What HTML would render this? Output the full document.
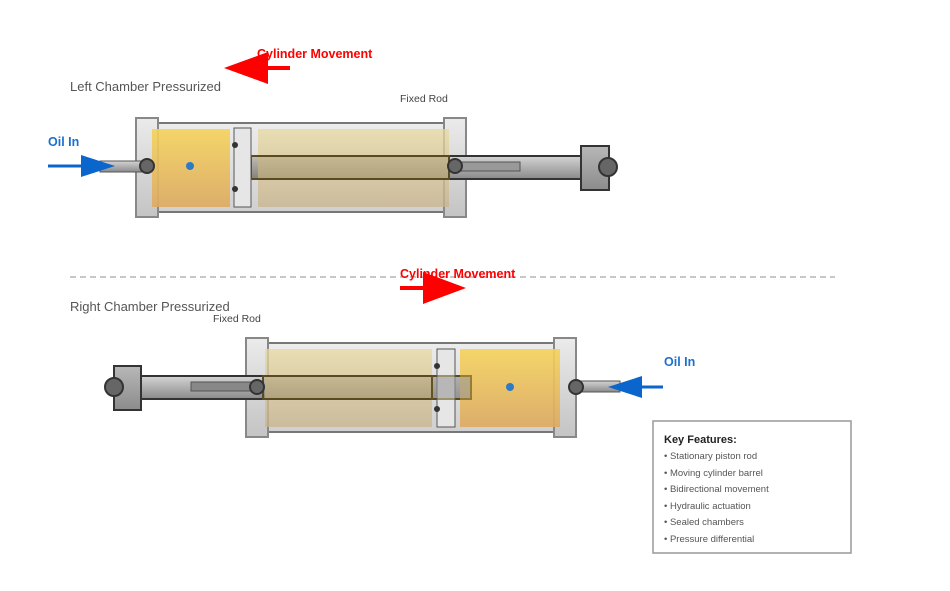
<!DOCTYPE html>
<html><head><meta charset="utf-8"><style>
html,body{margin:0;padding:0;background:#fff;}
svg{display:block;font-family:"Liberation Sans",Arial,sans-serif;}
</style></head><body>
<svg width="950" height="591" viewBox="0 0 950 591" xmlns="http://www.w3.org/2000/svg">
<defs>
<linearGradient id="met" x1="0" y1="0" x2="0" y2="1"><stop offset="0" stop-color="#d4d4d4"/><stop offset="1" stop-color="#8a8a8a"/></linearGradient>
<linearGradient id="cap" x1="0" y1="0" x2="0" y2="1"><stop offset="0" stop-color="#ebebeb"/><stop offset="1" stop-color="#c4c4c4"/></linearGradient>
<linearGradient id="bar" x1="0" y1="0" x2="0" y2="1"><stop offset="0" stop-color="#ececec"/><stop offset="1" stop-color="#d0d0d0"/></linearGradient>
<linearGradient id="yel" x1="0" y1="0" x2="0" y2="1"><stop offset="0" stop-color="#f5d35a"/><stop offset="1" stop-color="#deaa60"/></linearGradient>
<linearGradient id="lt" x1="0" y1="0" x2="0" y2="1"><stop offset="0" stop-color="#e8d9a0"/><stop offset="1" stop-color="#c9b48c"/></linearGradient>
<linearGradient id="blk" x1="0" y1="0" x2="0" y2="1"><stop offset="0" stop-color="#b8b8b8"/><stop offset="1" stop-color="#8c8c8c"/></linearGradient>
</defs>

<!-- TOP -->
<text x="70" y="91" font-size="13" fill="#555">Left Chamber Pressurized</text>
<text x="400" y="102" font-size="10.5" fill="#444">Fixed Rod</text>
<text x="257" y="58" font-size="12.5" font-weight="bold" fill="#f00">Cylinder Movement</text>
<line x1="240" y1="68" x2="290" y2="68" stroke="#f00" stroke-width="4"/>
<polygon points="224,68 268,52 268,84" fill="#f00"/>

<rect x="153" y="123" width="297" height="89" fill="url(#bar)" stroke="#777" stroke-width="2"/>
<rect x="136" y="118" width="22" height="99" fill="url(#cap)" stroke="#888" stroke-width="2"/>
<rect x="444" y="118" width="22" height="99" fill="url(#cap)" stroke="#888" stroke-width="2"/>
<rect x="100" y="161" width="47" height="11" fill="url(#met)" stroke="#555"/>
<rect x="251" y="156" width="332" height="23" fill="url(#met)" stroke="#333" stroke-width="2"/>
<rect x="455" y="162" width="65" height="9" fill="#999" stroke="#555"/>
<rect x="152" y="129" width="78" height="78" fill="url(#yel)" opacity="0.9"/>
<rect x="258" y="129" width="191" height="78" fill="url(#lt)" opacity="0.75"/>
<rect x="251" y="156" width="198" height="23" fill="#6b5a30" fill-opacity="0.18" stroke="#5a4a20" stroke-width="2"/>
<rect x="234" y="128" width="17" height="79" fill="#e6e6e6" stroke="#555"/>
<circle cx="235" cy="145" r="3" fill="#333"/><circle cx="235" cy="189" r="3" fill="#333"/>
<circle cx="147" cy="166" r="7" fill="#666" stroke="#333" stroke-width="2"/>
<circle cx="455" cy="166" r="7" fill="#666" stroke="#333" stroke-width="2"/>
<circle cx="190" cy="166" r="4" fill="#2e7bc4"/>
<rect x="581" y="146" width="28" height="44" fill="url(#blk)" stroke="#333" stroke-width="2"/>
<circle cx="608" cy="167" r="9" fill="#666" stroke="#333" stroke-width="2"/>
<text x="48" y="146" font-size="12.5" font-weight="bold" fill="#1a6fcf">Oil In</text>
<line x1="48" y1="166" x2="90" y2="166" stroke="#0a66cc" stroke-width="3"/>
<polygon points="115,166 81,155 81,177" fill="#0a66cc"/>

<line x1="70" y1="277" x2="835" y2="277" stroke="#c8c8c8" stroke-width="2" stroke-dasharray="6,4"/>

<!-- BOTTOM -->
<text x="70" y="311" font-size="13" fill="#555">Right Chamber Pressurized</text>
<text x="213" y="322" font-size="10.5" fill="#444">Fixed Rod</text>
<text x="400" y="278" font-size="12.5" font-weight="bold" fill="#f00">Cylinder Movement</text>
<line x1="400" y1="288" x2="450" y2="288" stroke="#f00" stroke-width="4"/>
<polygon points="466,288 423,272 423,304" fill="#f00"/>

<rect x="263" y="343" width="295" height="89" fill="url(#bar)" stroke="#777" stroke-width="2"/>
<rect x="246" y="338" width="22" height="99" fill="url(#cap)" stroke="#888" stroke-width="2"/>
<rect x="554" y="338" width="22" height="99" fill="url(#cap)" stroke="#888" stroke-width="2"/>
<rect x="576" y="381" width="44" height="11" fill="url(#met)" stroke="#555"/>
<rect x="141" y="376" width="330" height="23" fill="url(#met)" stroke="#333" stroke-width="2"/>
<rect x="191" y="382" width="66" height="9" fill="#888" stroke="#555"/>
<rect x="265" y="349" width="167" height="78" fill="url(#lt)" opacity="0.75"/>
<rect x="460" y="349" width="100" height="78" fill="url(#yel)" opacity="0.9"/>
<rect x="263" y="376" width="169" height="23" fill="#6b5a30" fill-opacity="0.18" stroke="#5a4a20" stroke-width="2"/>
<rect x="437" y="349" width="18" height="78" fill="#e6e6e6" stroke="#555"/>
<rect x="432" y="376" width="39" height="23" fill="#999" opacity="0.6" stroke="#6b5a20" stroke-width="2"/>
<circle cx="437" cy="366" r="3" fill="#333"/><circle cx="437" cy="409" r="3" fill="#333"/>
<circle cx="576" cy="387" r="7" fill="#666" stroke="#333" stroke-width="2"/>
<circle cx="257" cy="387" r="7" fill="#666" stroke="#333" stroke-width="2"/>
<circle cx="510" cy="387" r="4" fill="#2e7bc4"/>
<rect x="114" y="366" width="27" height="44" fill="url(#blk)" stroke="#333" stroke-width="2"/>
<circle cx="114" cy="387" r="9" fill="#666" stroke="#333" stroke-width="2"/>
<text x="664" y="366" font-size="12.5" font-weight="bold" fill="#1a6fcf">Oil In</text>
<line x1="625" y1="387" x2="663" y2="387" stroke="#0a66cc" stroke-width="3"/>
<polygon points="608,387 642,376 642,398" fill="#0a66cc"/>

<!-- Key -->
<rect x="653" y="421" width="198" height="132" fill="#fff" stroke="#999" stroke-width="1.5"/>
<text x="664" y="443" font-size="11" font-weight="bold" fill="#222">Key Features:</text>
<g font-size="9.5" fill="#555">
<text x="664" y="459">• Stationary piston rod</text>
<text x="664" y="476">• Moving cylinder barrel</text>
<text x="664" y="492">• Bidirectional movement</text>
<text x="664" y="509">• Hydraulic actuation</text>
<text x="664" y="525">• Sealed chambers</text>
<text x="664" y="542">• Pressure differential</text>
</g>
</svg>
</body></html>
